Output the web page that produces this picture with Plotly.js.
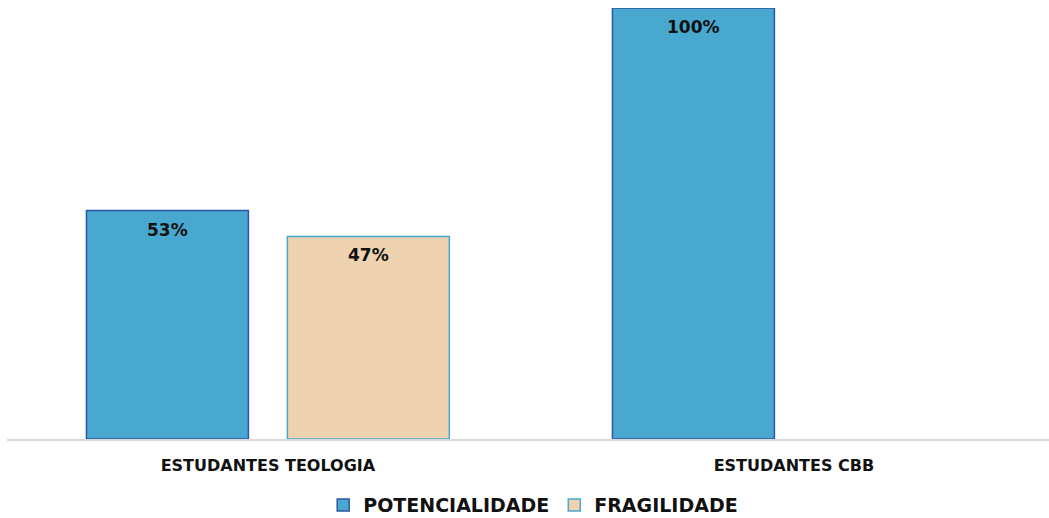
<!DOCTYPE html>
<html>
<head>
<meta charset="utf-8">
<script src="https://cdn.plot.ly/plotly-3.0.1.min.js"></script>
<style>html,body{margin:0;padding:0;background:#fff;}#chart{width:1049px;height:518px;}</style>
</head>
<body>
<div id="chart"></div>
<script>
const categories = ["ESTUDANTES TEOLOGIA", "ESTUDANTES CBB"];
const potencialidade = [53, 100];
const fragilidade = [47, null];
const seriesNames = ["POTENCIALIDADE", "FRAGILIDADE"];

const fontFam = "'DejaVu Sans', sans-serif";
const BARGAP = 0.236;
const BARGROUPGAP = 0.194;

const seriesList = [potencialidade, fragilidade];
const nSeries = seriesList.length;

const traces = [
  {
    type: "bar", name: seriesNames[0], x: categories, y: potencialidade,
    marker: {color: "#49A8D0", line: {color: "#2E55A3", width: 1.5}},
    hoverinfo: "none"
  },
  {
    type: "bar", name: seriesNames[1], x: categories, y: fragilidade,
    marker: {color: "#EFD2B0", line: {color: "#49A8D0", width: 1.5}},
    hoverinfo: "none"
  }
];

// value labels placed through the axis scales, at the centre of each grouped bar
const slot = (1 - BARGAP) / nSeries;
const annotations = [];
seriesList.forEach((vals, s) => {
  vals.forEach((v, i) => {
    if (v === null) return;
    annotations.push({
      xref: "x", yref: "y",
      x: i - (1 - BARGAP) / 2 + slot * (s + 0.5),
      y: v, yanchor: "middle", yshift: -19,
      text: v + "%", showarrow: false,
      font: {family: fontFam, size: 17, color: "#111", weight: "bold"}
    });
  });
});

const layout = {
  width: 1049, height: 518,
  margin: {l: 7, r: 0, t: 8, b: 79, pad: 0},
  paper_bgcolor: "#fff", plot_bgcolor: "#fff",
  barmode: "group", bargap: BARGAP, bargroupgap: BARGROUPGAP,
  showlegend: true,
  legend: {
    orientation: "h", xref: "paper", x: 0.505, xanchor: "center",
    yref: "container", y: 0.025, yanchor: "middle",
    font: {family: fontFam, size: 19, color: "#111", weight: "bold"},
    itemwidth: 30, traceorder: "normal"
  },
  annotations: annotations,
  xaxis: {
    type: "category", range: [-0.496, 1.485],
    showline: true, linecolor: "#D9D9D9", linewidth: 1.5,
    showgrid: false, zeroline: false, ticks: "",
    tickfont: {family: fontFam, size: 16, color: "#111", weight: "bold"},
    ticklabelstandoff: 11, fixedrange: true
  },
  yaxis: {
    range: [0, 100], visible: false, showgrid: false, zeroline: false, fixedrange: true
  }
};

Plotly.newPlot("chart", traces, layout, {displayModeBar: false, staticPlot: true});
</script>
</body>
</html>
